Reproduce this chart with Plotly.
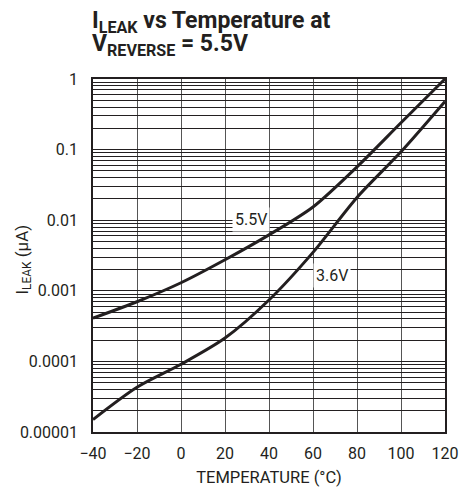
import math
import plotly.graph_objects as go

temps = [-40, -20, 0, 20, 40, 60, 80, 100, 120]
ileak_55 = [0.00041, 0.0007, 0.0013, 0.00275, 0.0062, 0.0154, 0.057, 0.24, 1.0]
ileak_36 = [0.000015, 0.000043, 0.000091, 0.000214, 0.00074, 0.0035, 0.021, 0.093, 0.48]

decades = [0.00001, 0.0001, 0.001, 0.01, 0.1, 1]
decade_labels = ["0.00001", "0.0001", "0.001", "0.01", "0.1", "1"]
x_ticks = [-40, -20, 0, 20, 40, 60, 80, 100, 120]

curve_labels = ["5.5V", "3.6V"]
label_pos = [(31.8, 0.0101), (68.6, 0.00167)]

title_lines = ["<b>I<sub>LEAK</sub> vs Temperature at</b>", "<b>V<sub>REVERSE</sub> = 5.5V</b>"]
y_title = "I<sub>LEAK</sub> (µA)"
x_title = "TEMPERATURE (°C)"

yvals, ytext = [], []
for d, lab in zip(decades, decade_labels):
    if d == 1:
        yvals.append(1.0); ytext.append(lab)
        continue
    for k in range(1, 10):
        yvals.append(round(d * k, 8))
        ytext.append(lab if k == 1 else "")

font_family = "Roboto, sans-serif"
ink = "#231f20"

fig = go.Figure()
for ys in (ileak_55, ileak_36):
    fig.add_trace(go.Scatter(x=temps, y=ys, mode="lines",
                             line=dict(color=ink, width=3, shape="spline", smoothing=0.8),
                             showlegend=False, hoverinfo="skip"))

for txt, (lx, ly) in zip(curve_labels, label_pos):
    fig.add_annotation(x=lx, y=math.log10(ly), text=txt, showarrow=False, bgcolor="white",
                       font=dict(size=16, color=ink, family=font_family), borderpad=2)

# two-line title, tight line pitch as in the reference
for line, shift in zip(title_lines, [57, 34]):
    fig.add_annotation(text=line, x=0, y=1, xref="paper", yref="paper",
                       xanchor="left", yanchor="middle", yshift=shift, xshift=-3,
                       showarrow=False, font=dict(size=23, family=font_family, color=ink))

# y-axis title placed like the reference (overlapping the tick-label column)
fig.add_annotation(text=y_title, x=0, y=0.5, xref="paper", yref="paper",
                   xanchor="center", yanchor="middle", xshift=-70, yshift=-4,
                   textangle=-90, showarrow=False,
                   font=dict(size=17, family=font_family, color=ink))

fig.update_layout(
    width=476, height=487,
    margin=dict(l=93, r=31, t=79, b=55),
    paper_bgcolor="white", plot_bgcolor="white",
    font=dict(family=font_family, size=16, color=ink),
)
fig.update_xaxes(range=[-40, 120], tickvals=x_ticks, ticks="", showgrid=True,
                 gridcolor="#555555", gridwidth=1, showline=True, linecolor=ink,
                 linewidth=1.5, mirror=True, zeroline=False, automargin=False,
                 ticklabelstandoff=6,
                 title=dict(text=x_title, font=dict(size=16.5), standoff=10),
                 tickfont=dict(size=16))
fig.update_yaxes(type="log", range=[-5, 0], tickvals=yvals, ticktext=ytext, ticks="",
                 showgrid=True, gridcolor=ink, gridwidth=1, showline=True,
                 linecolor=ink, linewidth=1.5, mirror=True, zeroline=False, automargin=False,
                 ticklabelstandoff=10,
                 tickfont=dict(size=16))

fig.write_html("out.html", config={"displayModeBar": False},
               post_script="document.body.style.margin='0';document.body.style.padding='0';")
